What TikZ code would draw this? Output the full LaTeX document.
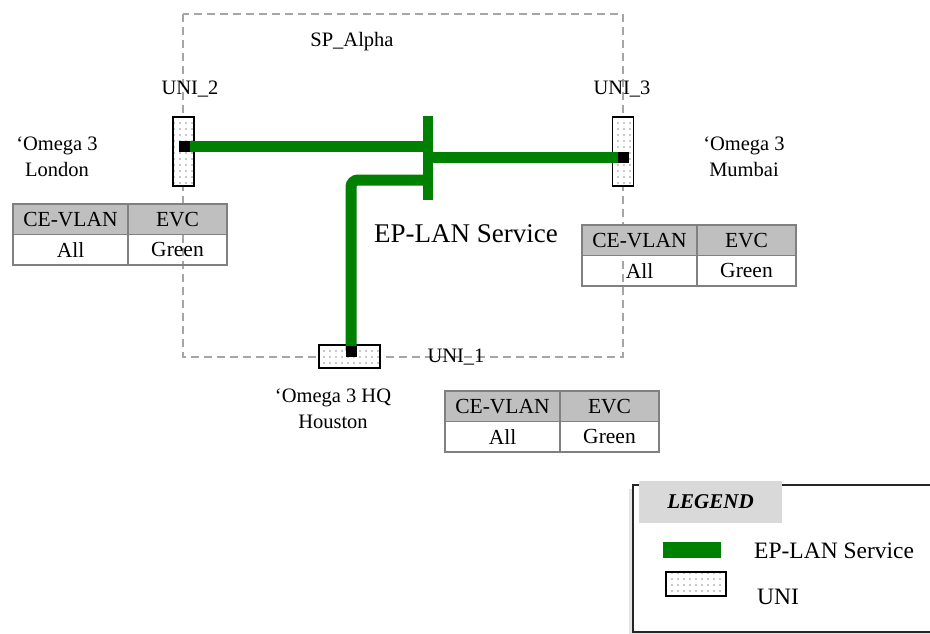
\documentclass[tikz,border=0pt]{standalone}
\usepackage{fontspec}
\setmainfont{Liberation Serif}
\usetikzlibrary{positioning, patterns.meta}
\definecolor{evcgreen}{RGB}{0,128,0}
\definecolor{cellgray}{RGB}{191,191,191}
\definecolor{rulegray}{RGB}{128,128,128}
\tikzset{evc/.style={draw=evcgreen, line width=11pt}}
\tikzset{uni/.style={draw=black, line width=1.8pt, inner sep=0pt, outer sep=0pt, preaction={fill=white}, pattern={Dots[radius=0.8pt, distance=6pt]}, pattern color=gray!85}}
\tikzset{port/.style={fill=black, minimum size=11pt, inner sep=0pt}}
\tikzset{cell/.style={draw=rulegray, line width=1.8pt, minimum height=30.5pt, inner sep=0pt, outer sep=0pt, font=\fontsize{21.5}{24}\selectfont}}
\tikzset{hcell/.style={cell, fill=cellgray}}
\tikzset{lbl/.style={font=\fontsize{20.5}{26}\selectfont, align=center}}
% one CE-VLAN / EVC table, #2 is its top left corner
\newcommand{\evctable}[2]{%
  \node[hcell, minimum width=115pt, anchor=north west] (#1-vl) at (#2) {CE-VLAN};
  \node[hcell, minimum width=99pt, right=0pt of #1-vl] (#1-ev) {EVC};
  \node[cell, minimum width=115pt, below=0pt of #1-vl] (#1-all) {All};
  \node[cell, minimum width=99pt, below=0pt of #1-ev] (#1-gr) {Green};
}

\begin{document}
\begin{tikzpicture}[x=1pt, y=-1pt]
    \useasboundingbox (0,0) rectangle (930,633);
    \clip (0,0) rectangle (930,633);
    % provider network
    \draw[gray!70, line width=1.4pt, dash pattern=on 8pt off 5pt] (183,14) rectangle (623,357);
    \node[lbl] (spalpha) at (352,42) {SP\_Alpha};

    % UNIs
    \node[uni, minimum width=21pt, minimum height=69pt] (uni2) at (183.5,151.5) {};
    \node[uni, minimum width=21pt, minimum height=69pt] (uni3) at (623,151.5) {};
    \node[uni, minimum width=61pt, minimum height=23pt] (uni1) at (349.7,356.7) {};
    \node[lbl] (uni2lbl) at (190,89) {UNI\_2};
    \node[lbl] (uni3lbl) at (622,89) {UNI\_3};
    \node[lbl] (uni1lbl) at (456,357) {UNI\_1};

    \coordinate (p2) at (184,146);
    \coordinate (p3) at (623,157);
    \coordinate (p1) at (351,351);

    % EP-LAN
    \node[fill=evcgreen, minimum width=10pt, minimum height=84pt, inner sep=0pt, outer sep=0pt] (bar) at (428,158) {};
    \coordinate (hub1) at (428,180);
    \draw[evc] (p2) -- (p2 -| bar.center);
    \draw[evc] (bar.center |- p3) -- (p3);
    \draw[evc, rounded corners=7pt] (hub1) -| (p1);
    \node[port] (sq2) at (p2) {};
    \node[port] (sq3) at (p3) {};
    \node[port] (sq1) at (p1) {};
    \node[font=\fontsize{27}{30}\selectfont] (eplan) at (466,234) {EP-LAN Service};

    % sites
    \node[lbl] (london) at (57,157) {`Omega 3\\London};
    \node[lbl] (mumbai) at (744,157) {`Omega 3\\Mumbai};
    \node[lbl] (houston) at (333,409) {`Omega 3 HQ\\Houston};

    \evctable{tl}{13,204}
    \evctable{tr}{582,225}
    \evctable{tb}{445,391}

    % legend
    \fill[gray!20] (629,489) rectangle (940,640);
    \draw[fill=white, draw=black!85, line width=1.4pt] (633,485) rectangle (940,632);
    \node[fill=gray!30, minimum width=143pt, minimum height=42pt, inner sep=0pt, font=\fontsize{21}{24}\selectfont\bfseries\itshape] (legendhead) at (710.5,502) {LEGEND};
    \node[fill=evcgreen, minimum width=58pt, minimum height=16pt, inner sep=0pt] (keyevc) at (692,550) {};
    \node[uni, minimum width=60pt, minimum height=24pt] (keyuni) at (696,584) {};
    \node[font=\fontsize{23.5}{26}\selectfont, anchor=west, inner sep=0pt] (keyevclbl) at (754,551) {EP-LAN Service};
    \node[font=\fontsize{23.5}{26}\selectfont, anchor=west, inner sep=0pt] (keyunilbl) at (757,597) {UNI};
\end{tikzpicture}
\end{document}
